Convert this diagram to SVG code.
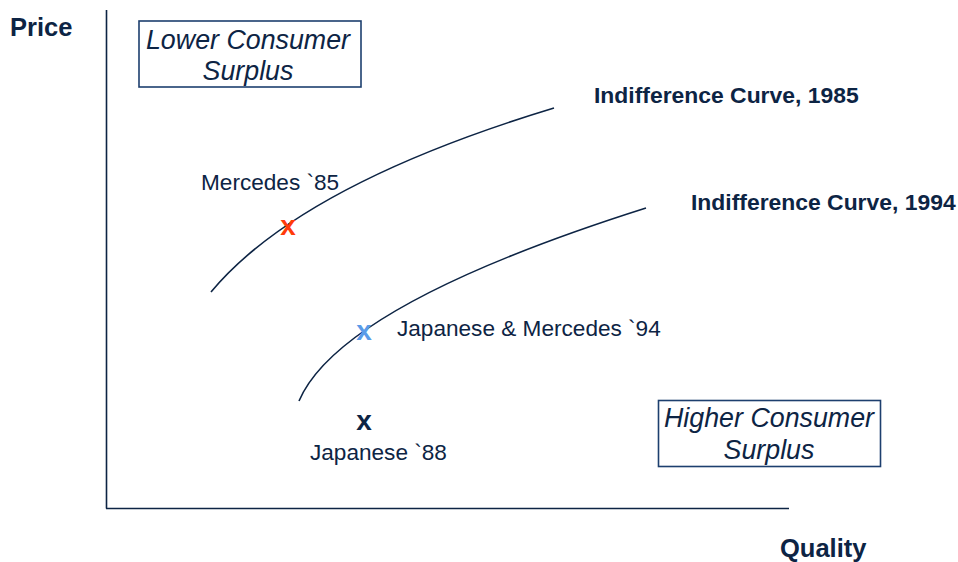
<svg xmlns="http://www.w3.org/2000/svg" width="958" height="562" viewBox="0 0 958 562">
<style>
text{font-family:"Liberation Sans",Arial,sans-serif;fill:#0d2444}
.b{font-weight:bold}
.i{font-style:italic;font-size:26.8px}
.l{font-size:22.6px}
.box{fill:#fff;stroke:#1d3f6e;stroke-width:1.6}
.ax{stroke:#0d2444;stroke-width:1.6;fill:none}
.cv{stroke:#0d2444;stroke-width:1.6;fill:none}
.mk{font-weight:bold;font-size:28px}
</style>
<rect width="958" height="562" fill="#fff"/>
<g id="axes">
<line class="ax" x1="106.5" y1="10" x2="106.5" y2="508.5"/>
<line class="ax" x1="106" y1="508.5" x2="789" y2="508.5"/>
<text class="b" x="10" y="36" font-size="25.5">Price</text>
<text class="b" x="780" y="557" font-size="25.5">Quality</text>
</g>
<g id="connectors">
<path id="curve1985" class="cv" d="M211,292 Q300,185 554,108"/>
<path id="curve1994" class="cv" d="M299,401 Q340,305 646,208"/>
</g>
<g id="box-lower">
<rect class="box" x="139" y="21" width="222" height="66"/>
<text class="i" x="248" y="49" text-anchor="middle">Lower Consumer</text>
<text class="i" x="248" y="80" text-anchor="middle">Surplus</text>
</g>
<g id="box-higher">
<rect class="box" x="658.5" y="400.5" width="222" height="66"/>
<text class="i" x="769" y="427" text-anchor="middle">Higher Consumer</text>
<text class="i" x="769" y="459" text-anchor="middle">Surplus</text>
</g>
<g id="label-1985"><text class="b" x="594" y="103" font-size="22.9">Indifference Curve, 1985</text></g>
<g id="label-1994"><text class="b" x="691" y="210" font-size="22.9">Indifference Curve, 1994</text></g>
<g id="mercedes85">
<text class="l" x="201" y="190">Mercedes `85</text>
<text class="mk" x="288" y="235" text-anchor="middle" style="fill:#ff3b0a">x</text>
</g>
<g id="jm94">
<text class="mk" x="364" y="340" text-anchor="middle" style="fill:#5a9be8">x</text>
<text class="l" x="397" y="336">Japanese &amp; Mercedes `94</text>
</g>
<g id="japanese88">
<text class="mk" x="364" y="430" text-anchor="middle">x</text>
<text class="l" x="310" y="460">Japanese `88</text>
</g>
</svg>
